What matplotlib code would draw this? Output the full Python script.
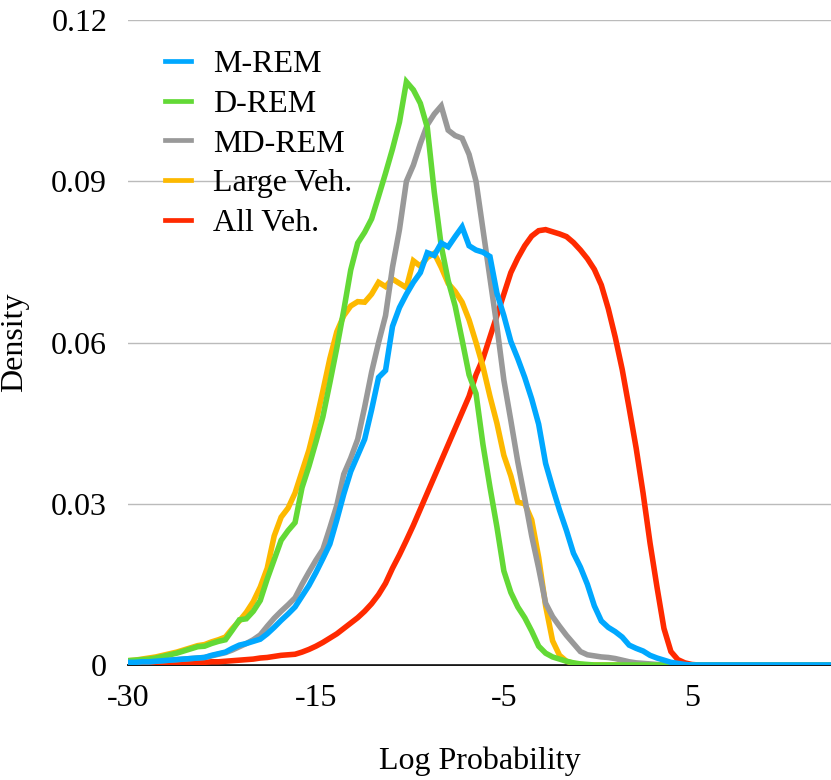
import numpy as np
import matplotlib
matplotlib.use('Agg')
import matplotlib.pyplot as plt

plt.rcParams['font.family'] = ['Liberation Serif', 'DejaVu Serif']
plt.rcParams['font.size'] = 23

# bin labels shown on the x axis (every 27th bin)
tick_bins = [0, 27, 54, 81]
tick_labels = ['-30', '-15', '-5', '5']
y_ticks = [0, 0.03, 0.06, 0.09, 0.12]
y_tick_labels = ['0', '0.03', '0.06', '0.09', '0.12']

series_names = ['M-REM', 'D-REM', 'MD-REM', 'Large Veh.', 'All Veh.']
series_colors = ['#00A8FF', '#63D936', '#999999', '#FDB900', '#FF2A00']

m_rem = [
    0.0005, 0.0005, 0.0006, 0.0006, 0.0007, 0.0008, 0.0009, 0.0010, 0.0011, 0.0012,
    0.0013, 0.0014, 0.0018, 0.0021, 0.0024, 0.0031, 0.0037, 0.0040, 0.0044, 0.0048,
    0.0058, 0.0070, 0.0083, 0.0095, 0.0108, 0.0128, 0.0148, 0.0172, 0.0198, 0.0225,
    0.0270, 0.0318, 0.0360, 0.0390, 0.0420, 0.0475, 0.0535, 0.0548, 0.0630, 0.0665,
    0.0690, 0.0712, 0.0730, 0.0767, 0.0762, 0.0785, 0.0778, 0.0797, 0.0815, 0.0780,
    0.0772, 0.0768, 0.0760, 0.0692, 0.0650, 0.0602, 0.0570, 0.0535, 0.0495, 0.0448,
    0.0375, 0.0330, 0.0288, 0.0250, 0.0208, 0.0182, 0.0150, 0.0110, 0.0082, 0.0070,
    0.0062, 0.0052, 0.0037, 0.0031, 0.0026, 0.0018, 0.0013, 0.0009, 0.0005, 0.0003,
    0.0001, 0.0000, 0.0000, 0.0000, 0.0000, 0.0000, 0.0000, 0.0000, 0.0000, 0.0000,
    0.0000, 0.0000, 0.0000, 0.0000, 0.0000, 0.0000, 0.0000, 0.0000, 0.0000, 0.0000,
    0.0000, 0.0000,
]

d_rem = [
    0.0008, 0.0009, 0.0010, 0.0011, 0.0013, 0.0016, 0.0019, 0.0022, 0.0026, 0.0030,
    0.0034, 0.0035, 0.0040, 0.0044, 0.0047, 0.0065, 0.0084, 0.0086, 0.0100, 0.0120,
    0.0160, 0.0196, 0.0232, 0.0250, 0.0265, 0.0330, 0.0370, 0.0415, 0.0462, 0.0525,
    0.0590, 0.0660, 0.0735, 0.0785, 0.0805, 0.0830, 0.0872, 0.0915, 0.0960, 0.1010,
    0.1085, 0.1070, 0.1045, 0.1000, 0.0880, 0.0780, 0.0715, 0.0668, 0.0605, 0.0540,
    0.0505, 0.0410, 0.0331, 0.0257, 0.0175, 0.0135, 0.0108, 0.0088, 0.0063, 0.0035,
    0.0022, 0.0015, 0.0011, 0.0007, 0.0004, 0.0002, 0.0001, 0.0000, 0.0000, 0.0000,
    0.0000, 0.0000, 0.0000, 0.0000, 0.0000, 0.0000, 0.0000, 0.0000, 0.0000, 0.0000,
    0.0000, 0.0000, 0.0000, 0.0000, 0.0000, 0.0000, 0.0000, 0.0000, 0.0000, 0.0000,
    0.0000, 0.0000, 0.0000, 0.0000, 0.0000, 0.0000, 0.0000, 0.0000, 0.0000, 0.0000,
    0.0000, 0.0000,
]

md_rem = [
    0.0005, 0.0005, 0.0006, 0.0006, 0.0007, 0.0008, 0.0009, 0.0010, 0.0011, 0.0012,
    0.0013, 0.0014, 0.0017, 0.0020, 0.0023, 0.0028, 0.0034, 0.0040, 0.0047, 0.0056,
    0.0072, 0.0087, 0.0100, 0.0112, 0.0125, 0.0150, 0.0173, 0.0195, 0.0215, 0.0255,
    0.0297, 0.0355, 0.0385, 0.0420, 0.0480, 0.0545, 0.0600, 0.0650, 0.0740, 0.0810,
    0.0900, 0.0930, 0.0970, 0.1005, 0.1025, 0.1040, 0.0995, 0.0985, 0.0980, 0.0950,
    0.0900, 0.0810, 0.0720, 0.0630, 0.0530, 0.0455, 0.0378, 0.0310, 0.0240, 0.0180,
    0.0115, 0.0090, 0.0072, 0.0055, 0.0040, 0.0025, 0.0019, 0.0017, 0.0015, 0.0014,
    0.0012, 0.0009, 0.0006, 0.0004, 0.0003, 0.0002, 0.0001, 0.0000, 0.0000, 0.0000,
    0.0000, 0.0000, 0.0000, 0.0000, 0.0000, 0.0000, 0.0000, 0.0000, 0.0000, 0.0000,
    0.0000, 0.0000, 0.0000, 0.0000, 0.0000, 0.0000, 0.0000, 0.0000, 0.0000, 0.0000,
    0.0000, 0.0000,
]

large_veh = [
    0.0008, 0.0009, 0.0011, 0.0013, 0.0015, 0.0018, 0.0021, 0.0024, 0.0028, 0.0032,
    0.0036, 0.0038, 0.0043, 0.0047, 0.0052, 0.0068, 0.0082, 0.0098, 0.0118, 0.0145,
    0.0180, 0.0240, 0.0275, 0.0292, 0.0320, 0.0360, 0.0400, 0.0452, 0.0510, 0.0570,
    0.0620, 0.0650, 0.0668, 0.0676, 0.0675, 0.0690, 0.0712, 0.0704, 0.0718, 0.0710,
    0.0702, 0.0752, 0.0742, 0.0758, 0.0766, 0.0740, 0.0710, 0.0695, 0.0675, 0.0642,
    0.0600, 0.0555, 0.0500, 0.0450, 0.0390, 0.0352, 0.0303, 0.0300, 0.0270, 0.0200,
    0.0110, 0.0045, 0.0018, 0.0007, 0.0003, 0.0001, 0.0000, 0.0000, 0.0000, 0.0000,
    0.0000, 0.0000, 0.0000, 0.0000, 0.0000, 0.0000, 0.0000, 0.0000, 0.0000, 0.0000,
    0.0000, 0.0000, 0.0000, 0.0000, 0.0000, 0.0000, 0.0000, 0.0000, 0.0000, 0.0000,
    0.0000, 0.0000, 0.0000, 0.0000, 0.0000, 0.0000, 0.0000, 0.0000, 0.0000, 0.0000,
    0.0000, 0.0000,
]

all_veh = [
    0.0001, 0.0001, 0.0002, 0.0002, 0.0002, 0.0003, 0.0003, 0.0003, 0.0004, 0.0004,
    0.0005, 0.0005, 0.0006, 0.0006, 0.0007, 0.0008, 0.0009, 0.0010, 0.0011, 0.0013,
    0.0014, 0.0016, 0.0018, 0.0019, 0.0020, 0.0024, 0.0029, 0.0035, 0.0042, 0.0050,
    0.0058, 0.0068, 0.0078, 0.0088, 0.0100, 0.0114, 0.0131, 0.0152, 0.0180, 0.0205,
    0.0232, 0.0260, 0.0290, 0.0320, 0.0350, 0.0380, 0.0410, 0.0440, 0.0470, 0.0500,
    0.0540, 0.0570, 0.0610, 0.0650, 0.0690, 0.0730, 0.0757, 0.0780, 0.0798, 0.0808,
    0.0810, 0.0806, 0.0802, 0.0797, 0.0786, 0.0772, 0.0756, 0.0736, 0.0707, 0.0663,
    0.0610, 0.0550, 0.0478, 0.0404, 0.0320, 0.0227, 0.0145, 0.0068, 0.0025, 0.0010,
    0.0004, 0.0001, 0.0000, 0.0000, 0.0000, 0.0000, 0.0000, 0.0000, 0.0000, 0.0000,
    0.0000, 0.0000, 0.0000, 0.0000, 0.0000, 0.0000, 0.0000, 0.0000, 0.0000, 0.0000,
    0.0000, 0.0000,
]

series = [m_rem, d_rem, md_rem, large_veh, all_veh]
bins = np.arange(len(m_rem))

fig = plt.figure(figsize=(8.31, 7.80), dpi=100)
ax = fig.add_axes([128 / 831, 115 / 780, 1 - 128 / 831, (665 - 20) / 780])

handles = []
for k, (name, vals, col) in enumerate(zip(series_names, series, series_colors)):
    # first series ends up on top, like the original
    h, = ax.plot(bins, vals, color=col, lw=4.0, label=name,
                 solid_joinstyle='miter', zorder=10 - k)
    handles.append(h)

ax.set_xlim(0, len(bins) - 1)
ax.set_ylim(0, 0.12)
ax.set_xticks(tick_bins)
ax.set_xticklabels(tick_labels)
ax.set_yticks(y_ticks)
ax.set_yticklabels(y_tick_labels)
ax.tick_params(axis='both', length=0)
ax.tick_params(axis='y', pad=15)
ax.tick_params(axis='x', pad=14)

ax.grid(axis='y', color='#BBBBBB', lw=1.0)
ax.set_axisbelow(True)
for side in ['left', 'right', 'top']:
    ax.spines[side].set_visible(False)
ax.spines['bottom'].set_color('black')
ax.spines['bottom'].set_linewidth(1.3)
ax.spines['bottom'].set_zorder(0.5)

ax.set_xlabel('Log Probability', labelpad=24)
ax.set_ylabel('Density', va='center')
ax.yaxis.set_label_coords(-113 / 703, 0.5)

leg = ax.legend(handles=handles, loc='upper left',
                bbox_to_anchor=(165 / 831, 1 - 50 / 780),
                bbox_transform=fig.transFigure, frameon=False,
                handlelength=0.8, handletextpad=0.7, labelspacing=0.32,
                borderpad=0, borderaxespad=0)
for line in leg.get_lines():
    line.set_linewidth(3.4)

fig.savefig('out.png', dpi=100)
